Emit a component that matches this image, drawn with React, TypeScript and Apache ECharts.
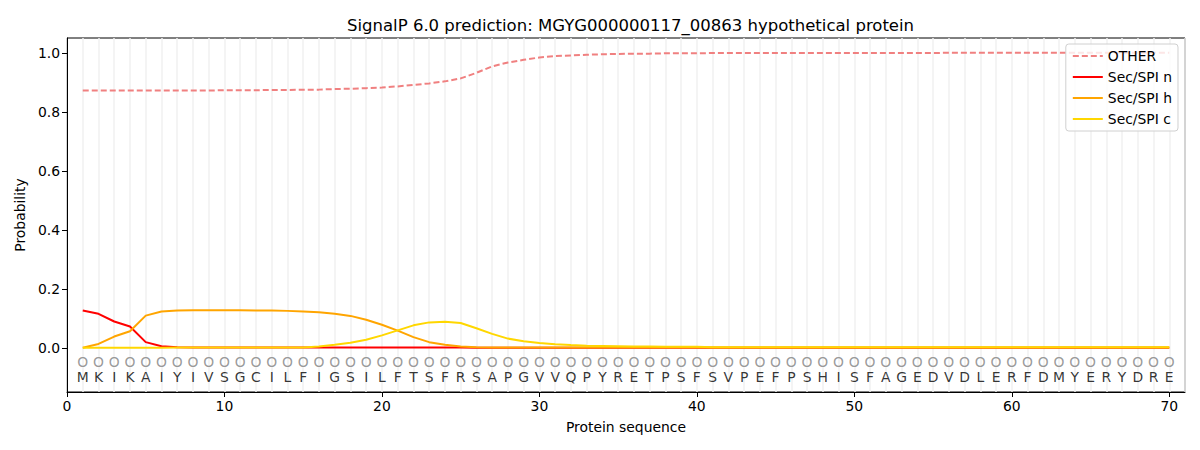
import React, { useEffect, useRef } from "react";
import * as echarts from "echarts";

const sequence = "MKIKAIYIVSGCILFIGSILFTSFRSAPGVVQPYRETPSFSVPEFPSHISFAGEDVDLERFDMYERYDRE".split("");

const otherProb = [
  0.872, 0.872, 0.872, 0.872, 0.872, 0.872, 0.872, 0.872, 0.872, 0.873,
  0.873, 0.873, 0.874, 0.874, 0.875, 0.875, 0.877, 0.878, 0.880, 0.882,
  0.886, 0.891, 0.896, 0.903, 0.913, 0.932, 0.954, 0.967, 0.976, 0.984,
  0.989, 0.991, 0.993, 0.995, 0.996, 0.997, 0.997, 0.998, 0.998, 0.998,
  0.999, 0.999, 0.999, 0.999, 0.999, 0.999, 0.999, 0.999, 0.999, 0.999,
  0.999, 0.999, 0.999, 0.999, 0.999, 1.0, 1.0, 1.0, 1.0, 1.0,
  1.0, 1.0, 1.0, 1.0, 1.0, 1.0, 1.0, 1.0, 1.0, 1.0,
];

const secN = [
  0.126, 0.115, 0.089, 0.072, 0.019, 0.005, 0.002, 0.001, 0.001, 0.001,
  0.001, 0.001, 0.001, 0.001, 0.001, 0.001, 0.001, 0.001, 0.001, 0.001,
  0.001, 0.001, 0.001, 0.001, 0.001, 0.0, 0.0, 0.0, 0.0, 0.0,
  0.0, 0.0, 0.0, 0.0, 0.0, 0.0, 0.0, 0.0, 0.0, 0.0,
  0.0, 0.0, 0.0, 0.0, 0.0, 0.0, 0.0, 0.0, 0.0, 0.0,
  0.0, 0.0, 0.0, 0.0, 0.0, 0.0, 0.0, 0.0, 0.0, 0.0,
  0.0, 0.0, 0.0, 0.0, 0.0, 0.0, 0.0, 0.0, 0.0, 0.0,
];

const secH = [
  0.0, 0.013, 0.038, 0.056, 0.109, 0.123, 0.126, 0.127, 0.127, 0.127,
  0.127, 0.126, 0.126, 0.125, 0.123, 0.120, 0.115, 0.108, 0.095, 0.078,
  0.058, 0.036, 0.019, 0.010, 0.004, 0.002, 0.001, 0.001, 0.001, 0.001,
  0.001, 0.001, 0.001, 0.001, 0.001, 0.001, 0.001, 0.001, 0.001, 0.001,
  0.001, 0.001, 0.001, 0.001, 0.001, 0.001, 0.001, 0.001, 0.001, 0.001,
  0.001, 0.001, 0.001, 0.001, 0.001, 0.001, 0.001, 0.001, 0.001, 0.001,
  0.001, 0.001, 0.001, 0.001, 0.001, 0.001, 0.001, 0.001, 0.001, 0.001,
];

const secC = [
  0.0, 0.0, 0.0, 0.0, 0.0, 0.0, 0.001, 0.001, 0.001, 0.001,
  0.001, 0.001, 0.001, 0.001, 0.001, 0.004, 0.010, 0.017, 0.027, 0.042,
  0.059, 0.076, 0.086, 0.088, 0.084, 0.066, 0.047, 0.031, 0.022, 0.016,
  0.012, 0.009, 0.007, 0.006, 0.005, 0.004, 0.004, 0.003, 0.003, 0.003,
  0.002, 0.002, 0.002, 0.002, 0.002, 0.002, 0.002, 0.002, 0.002, 0.002,
  0.002, 0.002, 0.002, 0.002, 0.002, 0.002, 0.002, 0.002, 0.002, 0.002,
  0.002, 0.002, 0.002, 0.002, 0.002, 0.002, 0.002, 0.002, 0.002, 0.002,
];

const yTicks = [0, 0.2, 0.4, 0.6, 0.8, 1.0];
const FONT = "DejaVu Sans";
const FS = 13.9;

const toPairs = (arr: number[]) => arr.map((v, i) => [i + 1, v]);

export default function App() {
  const ref = useRef<HTMLDivElement>(null);
  useEffect(() => {
    if (!ref.current) return;
    const chart = echarts.init(ref.current, null, { renderer: "svg" });
    const lineSeries = (name: string, data: number[], color: string, dashed = false) => ({
      name,
      type: "line",
      data: toPairs(data),
      symbol: "none",
      xAxisIndex: 0,
      yAxisIndex: 0,
      lineStyle: { color, width: 2, type: dashed ? [6, 3] : "solid" },
      itemStyle: { color },
      z: 3,
    });
    chart.setOption({
      animation: false,
      backgroundColor: "#fff",
      title: {
        text: "SignalP 6.0 prediction: MGYG000000117_00863 hypothetical protein",
        left: 342,
        top: 12,
        textStyle: { fontFamily: FONT, fontSize: 16.5, fontWeight: "normal", color: "#000" },
      },
      grid: {
        left: 67,
        right: 15,
        top: 38,
        bottom: 58,
        show: true,
        borderColor: "#000",
        borderWidth: 1,
        backgroundColor: "transparent",
      },
      legend: {
        data: ["OTHER", "Sec/SPI n", "Sec/SPI h", "Sec/SPI c"],
        orient: "vertical",
        right: 22,
        top: 44,
        padding: [5, 6, 5, 6],
        itemGap: 7,
        itemWidth: 30,
        itemHeight: 14,
        borderColor: "#d0d0d0",
        borderWidth: 1,
        borderRadius: 3,
        backgroundColor: "rgba(255,255,255,0.8)",
        itemStyle: { opacity: 0 },
        textStyle: { fontFamily: FONT, fontSize: FS, color: "#000" },
      },
      xAxis: [
        {
          type: "value",
          min: 0,
          max: 71,
          interval: 10,
          name: "Protein sequence",
          nameLocation: "middle",
          nameGap: 28,
          nameTextStyle: { fontFamily: FONT, fontSize: FS, color: "#000" },
          axisLine: { show: true, onZero: false, lineStyle: { color: "#000" } },
          axisTick: { show: true, length: 5, lineStyle: { color: "#000" } },
          axisLabel: { fontFamily: FONT, fontSize: FS, color: "#000", margin: 7 },
          splitLine: { show: false },
        },
        {
          type: "value",
          min: 0,
          max: 71,
          interval: 1,
          position: "bottom",
          axisLine: { show: false, onZero: false },
          axisTick: { show: false },
          axisLabel: { show: false },
          splitLine: { show: true, lineStyle: { color: "#f0f0f0", width: 1.5 } },
        },
      ],
      yAxis: {
        type: "value",
        min: -0.15,
        max: 1.05,
        name: "Probability",
        nameLocation: "middle",
        nameGap: 38,
        nameTextStyle: { fontFamily: FONT, fontSize: FS, color: "#000" },
        axisLine: { show: true, onZero: false, lineStyle: { color: "#000" } },
        axisTick: { show: true, length: 5, customValues: yTicks, lineStyle: { color: "#000" } },
        axisLabel: {
          fontFamily: FONT,
          fontSize: FS,
          color: "#000",
          margin: 7,
          customValues: yTicks,
          formatter: (v: number) => v.toFixed(1),
        },
        splitLine: { show: false },
      },
      series: [
        lineSeries("OTHER", otherProb, "#f08080", true),
        lineSeries("Sec/SPI n", secN, "#ff0000"),
        lineSeries("Sec/SPI h", secH, "#ffa500"),
        lineSeries("Sec/SPI c", secC, "#ffd700"),
        {
          name: "markers",
          type: "scatter",
          silent: true,
          data: sequence.map((_, i) => [i + 1, -0.047]),
          symbol: "circle",
          symbolSize: 1,
          itemStyle: { color: "rgba(0,0,0,0)" },
          label: {
            show: true,
            position: "inside",
            formatter: "O",
            fontFamily: FONT,
            fontSize: FS,
            color: "#808080",
          },
          z: 2,
        },
        {
          name: "letters",
          type: "scatter",
          silent: true,
          data: sequence.map((_, i) => [i + 1, -0.1]),
          symbol: "circle",
          symbolSize: 1,
          itemStyle: { color: "rgba(0,0,0,0)" },
          label: {
            show: true,
            position: "inside",
            formatter: (p: any) => sequence[p.dataIndex],
            fontFamily: FONT,
            fontSize: FS,
            color: "#000",
          },
          z: 2,
        },
      ],
    });
    return () => chart.dispose();
  }, []);
  return <div ref={ref} style={{ width: 1200, height: 450, margin: -8 }} />;
}
